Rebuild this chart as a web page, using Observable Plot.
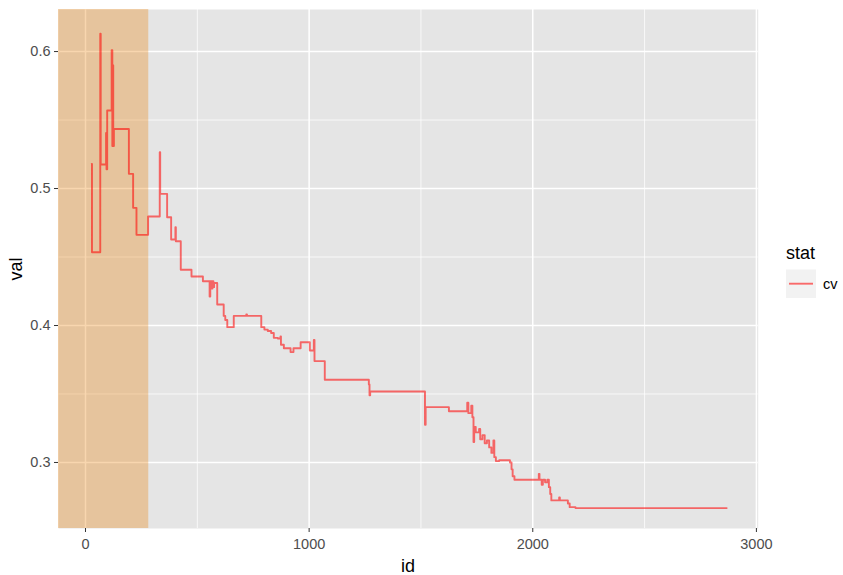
<!DOCTYPE html>
<html>
<head>
<meta charset="utf-8">
<script src="https://cdn.jsdelivr.net/npm/d3@7"></script>
<script src="https://cdn.jsdelivr.net/npm/@observablehq/plot@0.6"></script>
<style>
  html, body { margin: 0; padding: 0; background: white; }
  #chart { width: 843px; height: 575px; }
</style>
</head>
<body>
<div id="chart"></div>
<script>
// Step line (step-after): id where a new value starts, and that value
const ids = [28, 29, 66, 68, 92, 94, 97, 117, 120, 122, 124, 127,
  194, 213, 228, 280, 332, 334, 365, 383, 402, 404, 426, 474, 525, 555, 558, 565, 568, 572, 575,
  589, 618, 625, 634, 663, 719, 722, 786, 800, 815, 830, 842, 860, 872, 874, 887, 917, 930, 962,
  1003, 1021, 1024, 1070, 1267, 1270, 1273, 1518, 1521, 1625, 1707, 1712, 1725, 1730, 1735, 1738,
  1745, 1760, 1765, 1775, 1785, 1795, 1805, 1815, 1824, 1828, 1835, 1850, 1898, 1905, 1910, 1918,
  2027, 2030, 2040, 2045, 2055, 2065, 2072, 2078, 2083, 2118, 2121, 2157, 2165, 2191, 2867];
const vals = [0.518, 0.4535, 0.613, 0.5175, 0.5406, 0.514, 0.557, 0.601, 0.531, 0.59, 0.531, 0.5435,
  0.5107, 0.4859, 0.4662, 0.4796, 0.5265, 0.4961, 0.479, 0.4628, 0.4717, 0.4615, 0.4407, 0.4358, 0.4323, 0.4212, 0.4323, 0.427, 0.4323, 0.428, 0.431,
  0.4153, 0.407, 0.404, 0.3988, 0.407, 0.408, 0.407, 0.3988, 0.397, 0.396, 0.3945, 0.391, 0.3905, 0.392, 0.386, 0.3834, 0.3806, 0.3834, 0.3878,
  0.3818, 0.3895, 0.374, 0.3604, 0.357, 0.349, 0.3518, 0.3275, 0.3404, 0.3374, 0.3436, 0.336, 0.3415, 0.333, 0.315, 0.326,
  0.322, 0.3245, 0.317, 0.32, 0.314, 0.316, 0.311, 0.307, 0.316, 0.3039, 0.301, 0.3016, 0.30, 0.295, 0.29, 0.2874,
  0.2917, 0.2874, 0.2837, 0.2874, 0.2855, 0.2874, 0.282, 0.277, 0.2723, 0.2745, 0.2723, 0.270, 0.2674, 0.2667, 0.2667];

const xDomain = [-120.7, 3008];
const yDomain = [0.2518, 0.6307];
const highlightEnd = 283;
const xMajor = [0, 1000, 2000, 3000];
const xMinor = [500, 1500, 2500];
const yMajor = [0.3, 0.4, 0.5, 0.6];
const yMinor = [0.35, 0.45, 0.55];
const seriesName = "cv";

const data = ids.map((id, i) => ({id, val: vals[i], stat: seriesName}));
const band = [{x1: xDomain[0], x2: highlightEnd, y1: yDomain[0], y2: yDomain[1]}];

const font = "'Liberation Sans', Arial, Helvetica, sans-serif";

const plot = Plot.plot({
  width: 843,
  height: 575,
  marginLeft: 58,
  marginRight: 85.3,
  marginTop: 9,
  marginBottom: 47,
  style: {fontFamily: font, background: "white"},
  x: {domain: xDomain},
  y: {domain: yDomain},
  marks: [
    Plot.frame({fill: "#E5E5E5", stroke: null}),
    Plot.gridX(xMinor, {stroke: "white", strokeOpacity: 1, strokeWidth: 0.75}),
    Plot.gridY(yMinor, {stroke: "white", strokeOpacity: 1, strokeWidth: 0.75}),
    Plot.gridX(xMajor, {stroke: "white", strokeOpacity: 1, strokeWidth: 1.5}),
    Plot.gridY(yMajor, {stroke: "white", strokeOpacity: 1, strokeWidth: 1.5}),
    Plot.rect(band, {x1: "x1", x2: "x2", y1: "y1", y2: "y2", fill: "rgb(235,132,11)", fillOpacity: 0.33}),
    Plot.line(data, {x: "id", y: "val", curve: "step-after", stroke: "red", strokeOpacity: 0.56, strokeWidth: 1.9}),
    Plot.axisX({ticks: xMajor, tickSize: 4, tickPadding: 6, fontSize: 14.5, stroke: "#333333", fill: "#4D4D4D", label: null, tickFormat: d3.format("d")}),
    Plot.axisY({ticks: yMajor, tickSize: 4, tickPadding: 4, fontSize: 14.5, stroke: "#333333", fill: "#4D4D4D", label: null, tickFormat: d3.format(".1f")})
  ]
});

document.getElementById("chart").appendChild(plot);

const svg = d3.select(plot);
// Axis titles
svg.append("text").attr("x", 408).attr("y", 572).attr("text-anchor", "middle")
  .attr("font-family", font).attr("font-size", 18).attr("fill", "black").text("id");
svg.append("text").attr("transform", "translate(22,269) rotate(-90)").attr("text-anchor", "middle")
  .attr("font-family", font).attr("font-size", 18).attr("fill", "black").text("val");
// Legend
svg.append("text").attr("x", 786).attr("y", 259).attr("text-anchor", "start").attr("font-family", font)
  .attr("font-size", 18).attr("fill", "black").text("stat");
svg.append("rect").attr("x", 786).attr("y", 269.5).attr("width", 30).attr("height", 28.5).attr("fill", "#F2F2F2");
svg.append("line").attr("x1", 789).attr("x2", 813).attr("y1", 283.7).attr("y2", 283.7)
  .attr("stroke", "red").attr("stroke-opacity", 0.56).attr("stroke-width", 1.9);
svg.append("text").attr("x", 823).attr("y", 289).attr("text-anchor", "start").attr("font-family", font)
  .attr("font-size", 14.5).attr("fill", "black").text(seriesName);
</script>
</body>
</html>
